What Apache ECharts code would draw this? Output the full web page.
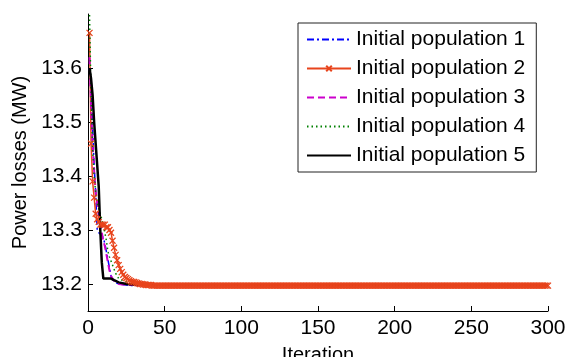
<!DOCTYPE html>
<html>
<head>
<meta charset="utf-8">
<script src="https://cdn.jsdelivr.net/npm/echarts@6/dist/echarts.min.js"></script>
<style>
  html, body { margin: 0; padding: 0; background: #fff; }
  #chart { width: 566px; height: 357px; }
</style>
</head>
<body>
<div id="chart"></div>
<script>
// tick labels
const xTicks = [0, 50, 100, 150, 200, 250, 300];
const yTicks = [13.2, 13.3, 13.4, 13.5, 13.6];

const names = [
  "Initial population 1",
  "Initial population 2",
  "Initial population 3",
  "Initial population 4",
  "Initial population 5"
];

// population 1: iterations / best loss
const pop1It = [1, 2, 3, 4, 5, 6, 7, 8, 9, 10, 11, 12, 13, 14, 15, 16, 17, 18, 20, 25, 30, 300];
const pop1 = [13.60, 13.55, 13.49, 13.42, 13.37, 13.30, 13.295, 13.295, 13.29, 13.285, 13.275, 13.26,
  13.245, 13.23, 13.215, 13.208, 13.205, 13.203, 13.2, 13.198, 13.197, 13.197];

// population 2: one value per iteration (1..300)
const pop2 = [
  13.665, 13.46, 13.39, 13.36, 13.33, 13.32, 13.315, 13.31, 13.31, 13.31,
  13.31, 13.305, 13.305, 13.30, 13.295, 13.28, 13.267, 13.254, 13.244, 13.235,
  13.228, 13.222, 13.217, 13.213, 13.211, 13.209, 13.207, 13.205, 13.204, 13.204,
  13.203, 13.202, 13.201, 13.200, 13.200, 13.199, 13.199, 13.198, 13.198, 13.198,
  13.198, 13.197, 13.197, 13.197, 13.197,
  13.197, 13.197, 13.197, 13.197, 13.197, 13.197, 13.197, 13.197, 13.197, 13.197, 13.197, 13.197, 13.197, 13.197, 13.197,
  13.197, 13.197, 13.197, 13.197, 13.197, 13.197, 13.197, 13.197, 13.197, 13.197, 13.197, 13.197, 13.197, 13.197, 13.197,
  13.197, 13.197, 13.197, 13.197, 13.197, 13.197, 13.197, 13.197, 13.197, 13.197, 13.197, 13.197, 13.197, 13.197, 13.197,
  13.197, 13.197, 13.197, 13.197, 13.197, 13.197, 13.197, 13.197, 13.197, 13.197, 13.197, 13.197, 13.197, 13.197, 13.197,
  13.197, 13.197, 13.197, 13.197, 13.197, 13.197, 13.197, 13.197, 13.197, 13.197, 13.197, 13.197, 13.197, 13.197, 13.197,
  13.197, 13.197, 13.197, 13.197, 13.197, 13.197, 13.197, 13.197, 13.197, 13.197, 13.197, 13.197, 13.197, 13.197, 13.197,
  13.197, 13.197, 13.197, 13.197, 13.197, 13.197, 13.197, 13.197, 13.197, 13.197, 13.197, 13.197, 13.197, 13.197, 13.197,
  13.197, 13.197, 13.197, 13.197, 13.197, 13.197, 13.197, 13.197, 13.197, 13.197, 13.197, 13.197, 13.197, 13.197, 13.197,
  13.197, 13.197, 13.197, 13.197, 13.197, 13.197, 13.197, 13.197, 13.197, 13.197, 13.197, 13.197, 13.197, 13.197, 13.197,
  13.197, 13.197, 13.197, 13.197, 13.197, 13.197, 13.197, 13.197, 13.197, 13.197, 13.197, 13.197, 13.197, 13.197, 13.197,
  13.197, 13.197, 13.197, 13.197, 13.197, 13.197, 13.197, 13.197, 13.197, 13.197, 13.197, 13.197, 13.197, 13.197, 13.197,
  13.197, 13.197, 13.197, 13.197, 13.197, 13.197, 13.197, 13.197, 13.197, 13.197, 13.197, 13.197, 13.197, 13.197, 13.197,
  13.197, 13.197, 13.197, 13.197, 13.197, 13.197, 13.197, 13.197, 13.197, 13.197, 13.197, 13.197, 13.197, 13.197, 13.197,
  13.197, 13.197, 13.197, 13.197, 13.197, 13.197, 13.197, 13.197, 13.197, 13.197, 13.197, 13.197, 13.197, 13.197, 13.197,
  13.197, 13.197, 13.197, 13.197, 13.197, 13.197, 13.197, 13.197, 13.197, 13.197, 13.197, 13.197, 13.197, 13.197, 13.197,
  13.197, 13.197, 13.197, 13.197, 13.197, 13.197, 13.197, 13.197, 13.197, 13.197, 13.197, 13.197, 13.197, 13.197, 13.197,
  13.197, 13.197, 13.197, 13.197, 13.197, 13.197, 13.197, 13.197, 13.197, 13.197, 13.197, 13.197, 13.197, 13.197, 13.197
];

// population 3
const pop3It = [1, 2, 3, 4, 5, 6, 7, 8, 9, 10, 11, 12, 13, 14, 15, 16, 17, 18, 20, 25, 300];
const pop3 = [13.62, 13.53, 13.46, 13.41, 13.37, 13.35, 13.33, 13.31, 13.295, 13.28, 13.27, 13.255,
  13.24, 13.225, 13.215, 13.21, 13.206, 13.203, 13.2, 13.198, 13.197];

// population 4
const pop4It = [1, 2, 3, 4, 5, 6, 7, 8, 9, 10, 11, 12, 13, 14, 16, 18, 20, 24, 28, 35, 45, 300];
const pop4 = [13.698, 13.55, 13.45, 13.40, 13.37, 13.35, 13.34, 13.33, 13.32, 13.31, 13.295, 13.28,
  13.26, 13.25, 13.235, 13.22, 13.21, 13.205, 13.2, 13.198, 13.197, 13.197];

// population 5
const pop5It = [1, 2, 3, 4, 5, 6, 7, 8, 9, 10, 15, 17, 20, 25, 30, 300];
const pop5 = [13.60, 13.58, 13.55, 13.50, 13.46, 13.42, 13.38, 13.30, 13.24, 13.21, 13.21, 13.207,
  13.203, 13.2, 13.199, 13.198];

const pairs = (its, vals) => vals.map((v, i) => [its[i], v]);
const font = "Liberation Sans, Arial, sans-serif";
const red = "#e8441c";

const chart = echarts.init(document.getElementById("chart"), null, { renderer: "canvas" });

// legend entries: no marker except for population 2
const legendData = names.map((n, i) =>
  i === 1 ? { name: n } : { name: n, itemStyle: { opacity: 0 } }
);

chart.setOption({
  animation: false,
  backgroundColor: "#ffffff",
  grid: { left: 88, right: 18, top: 14, bottom: 46, outerBoundsMode: "none" },
  legend: {
    orient: "vertical",
    left: 298,
    top: 23,
    padding: [6, 11, 6, 8],
    itemWidth: 44,
    itemHeight: 7,
    itemGap: 8,
    borderColor: "#222",
    borderWidth: 1,
    backgroundColor: "#fff",
    textStyle: { fontFamily: font, fontSize: 21, color: "#000", lineHeight: 21 },
    data: legendData
  },
  xAxis: {
    type: "value",
    min: 0,
    max: 300,
    interval: 50,
    name: "Iteration",
    nameLocation: "middle",
    nameGap: 34,
    nameTextStyle: { fontFamily: font, fontSize: 20, color: "#000", verticalAlign: "top" },
    axisLine: { lineStyle: { color: "#000", width: 1 } },
    axisTick: { inside: true, length: 5, lineStyle: { color: "#000" } },
    axisLabel: { fontFamily: font, fontSize: 21, color: "#000", margin: 7 },
    splitLine: { show: false }
  },
  yAxis: {
    type: "value",
    min: 13.15,
    max: 13.7,
    name: "Power losses (MW)",
    nameLocation: "middle",
    nameGap: 56,
    nameTextStyle: { fontFamily: font, fontSize: 20, color: "#000" },
    axisLine: { show: true, lineStyle: { color: "#000", width: 1 } },
    axisTick: { inside: true, length: 5, lineStyle: { color: "#000" }, customValues: yTicks },
    axisLabel: {
      fontFamily: font, fontSize: 21, color: "#000", margin: 6,
      customValues: yTicks,
      formatter: v => v.toFixed(1)
    },
    splitLine: { show: false }
  },
  series: [
    {
      name: names[0], type: "line", symbol: "none",
      data: pairs(pop1It, pop1),
      lineStyle: { color: "#0000ff", width: 1.5, type: [7, 3, 2, 3] },
      itemStyle: { color: "#0000ff" }
    },
    {
      name: names[1], type: "line",
      symbol: "path://M0,0L10,10M10,0L0,10",
      symbolSize: 6,
      showAllSymbol: true,
      data: pop2.map((v, i) => [i + 1, v]),
      lineStyle: { color: red, width: 1.5 },
      itemStyle: { color: red, borderColor: red, borderWidth: 1.3 }
    },
    {
      name: names[2], type: "line", symbol: "none",
      data: pairs(pop3It, pop3),
      lineStyle: { color: "#cc00cc", width: 2, type: [7, 4] },
      itemStyle: { color: "#cc00cc" }
    },
    {
      name: names[3], type: "line", symbol: "none",
      data: pairs(pop4It, pop4),
      lineStyle: { color: "#008000", width: 1.5, type: [1.5, 3] },
      itemStyle: { color: "#008000" }
    },
    {
      name: names[4], type: "line", symbol: "none",
      data: pairs(pop5It, pop5),
      lineStyle: { color: "#000000", width: 2.5 },
      itemStyle: { color: "#000000" }
    }
  ]
});
</script>
</body>
</html>
